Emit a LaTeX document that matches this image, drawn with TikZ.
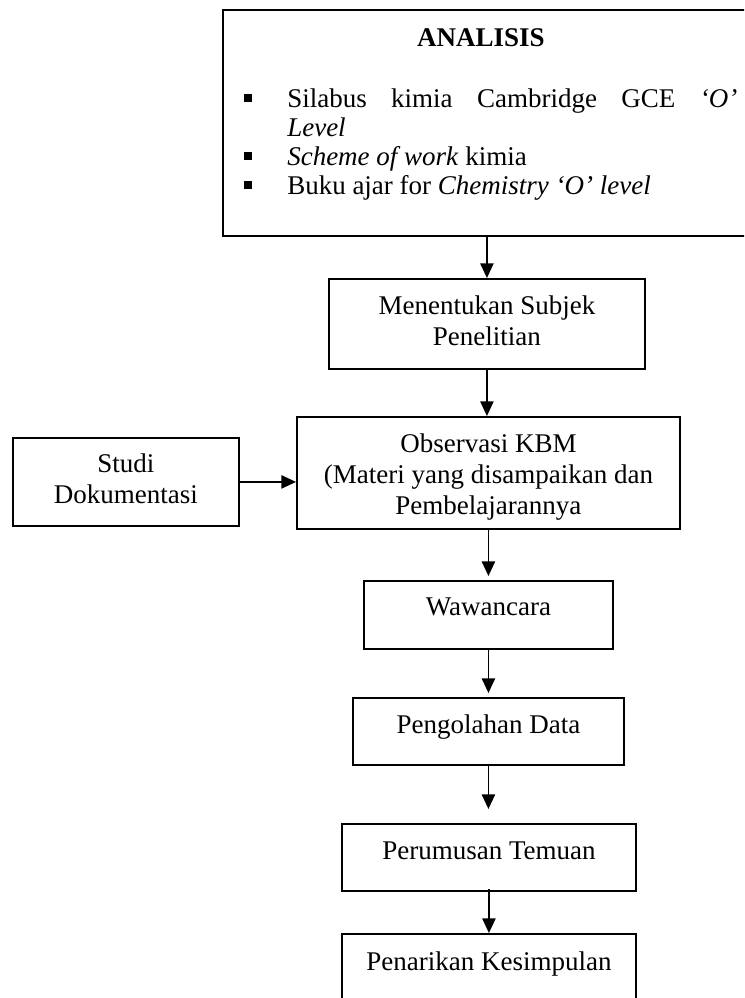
\documentclass[tikz,border=0pt]{standalone}
\usepackage{fontspec}
\setmainfont{Liberation Serif}
\usetikzlibrary{arrows.meta,calc}
\newcommand{\baris}[1]{\begin{tabular}[t]{@{}c@{}}#1\end{tabular}}
\newcommand{\kotakkecil}{\rule[4.5pt]{6pt}{6pt}}

\begin{document}
\begin{tikzpicture}[x=0.75pt,y=0.75pt,yscale=-1,xscale=1,
	kotak/.style={draw, line width=1.4pt, anchor=north west, inner sep=0pt},
	teks/.style={anchor=base, inner sep=0pt, font=\fontsize{20.25pt}{23.25pt}\selectfont},
	panah/.style={-{Triangle[length=11pt,width=10pt]}, line width=1.1pt}]
		\useasboundingbox (0,0) rectangle (744,998);
		\clip (0,0) rectangle (744,998);
		% kotak-kotak
		\node[kotak, minimum width=403.5pt, minimum height=169.5pt] (analisis) at (222,9) {};
		\node[kotak, minimum width=237pt, minimum height=67.5pt] (menentukan) at (328,278) {};
		\node[kotak, minimum width=287.25pt, minimum height=84pt] (observasi) at (296,416) {};
		\node[kotak, minimum width=169.5pt, minimum height=66pt] (studi) at (12,437) {};
		\node[kotak, minimum width=186.75pt, minimum height=51pt] (wawancara) at (363,580) {};
		\node[kotak, minimum width=203.25pt, minimum height=50.25pt] (pengolahan) at (352,697) {};
		\node[kotak, minimum width=220.5pt, minimum height=50.25pt] (perumusan) at (341,823) {};
		\node[kotak, minimum width=220.5pt, minimum height=57.75pt] (penarikan) at (341,933) {};
		% isi kotak
		\node[teks] (judul) at (481,47) {\textbf{ANALISIS}};
		\node[anchor=base west, inner sep=0pt, font=\fontsize{20.25pt}{21.75pt}\selectfont] (daftar) at (244,108) {\begin{tabular}[t]{@{}l@{}l@{}}
			\makebox[32.25pt][l]{\kotakkecil} & \makebox[337.5pt][s]{Silabus kimia Cambridge GCE \textit{‘O’}}\\
			& \textit{Level}\\
			\makebox[32.25pt][l]{\kotakkecil} & \textit{Scheme of work} kimia\\
			\makebox[32.25pt][l]{\kotakkecil} & Buku ajar for \textit{Chemistry ‘O’ level}
		\end{tabular}};
		\node[teks] (tmenentukan) at ($(menentukan.north)+(0,37)$) {\baris{Menentukan Subjek\\Penelitian}};
		\node[teks] (tobservasi) at ($(observasi.north)+(0,36)$) {\baris{Observasi KBM\\(Materi yang disampaikan dan\\Pembelajarannya}};
		\node[teks] (tstudi) at ($(studi.north)+(0,35)$) {\baris{Studi\\Dokumentasi}};
		\node[teks] (twawancara) at ($(wawancara.north)+(0,35)$) {Wawancara};
		\node[teks] (tpengolahan) at ($(pengolahan.north)+(0,36)$) {Pengolahan Data};
		\node[teks] (tperumusan) at ($(perumusan.north)+(0,36)$) {Perumusan Temuan};
		\node[teks] (tpenarikan) at ($(penarikan.north)+(0,37)$) {Penarikan Kesimpulan};
		% panah
		\draw[panah] (analisis.south -| menentukan.north) -- (menentukan.north);
		\draw[panah] (menentukan.south) -- (menentukan.south |- observasi.north);
		\draw[panah] (studi.east) -- (studi.east -| observasi.west);
		\draw[panah, shorten >=3pt] (wawancara.north |- observasi.south) -- (wawancara.north);
		\draw[panah, shorten >=3pt] (wawancara.south) -- (wawancara.south |- pengolahan.north);
		\draw[panah, shorten >=10.5pt] (pengolahan.south -| wawancara.south) -- (wawancara.south |- perumusan.north);
		\draw[panah, shorten <=-2pt] (perumusan.south) -- (penarikan.north);
\end{tikzpicture}
\end{document}
